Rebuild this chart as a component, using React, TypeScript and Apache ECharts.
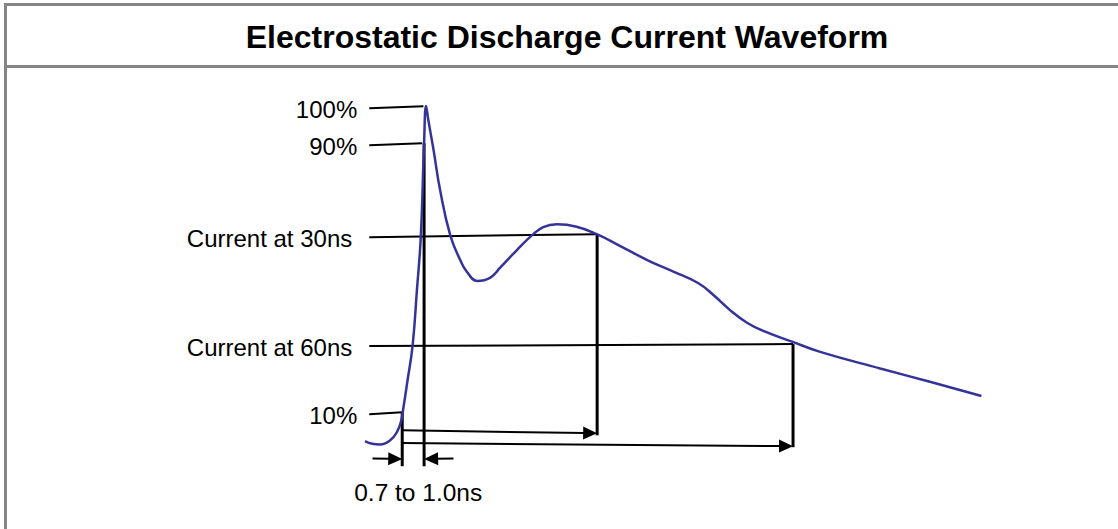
import React, { useEffect, useRef } from "react";
import * as echarts from "echarts";

// Waveform (time in ns, current in % of peak)
const timeNs = [
  -5.55, -4.45, -3.25, -1.65, -0.65, -0.05, 0.25, 0.95, 1.75, 2.4, 3.0, 3.5, 3.8,
  4.15, 4.95, 5.95, 7.5, 9.05, 10.05, 11.65, 13.65, 15.15, 17.75, 20.05, 21.75,
  23.85, 26.85, 29.95, 33.55, 37.75, 41.75, 45.45, 47.85, 50.35, 52.95, 55.45,
  59.85, 64.15, 73.35, 80.95, 88.85,
];
const currentPct = [
  1.2, 0.4, 0.2, 1.5, 3.9, 6.9, 10, 18.9, 29.5, 45.7, 61.6, 89, 100,
  95.8, 87, 75.2, 61.9, 54.5, 51.1, 48.4, 49.4, 52.3, 57.6, 61.9, 64.3,
  65.1, 64.4, 62.2, 58.7, 54.5, 51.1, 47.8, 44.2, 39.8, 36.1, 33.7,
  30.5, 27.5, 22.6, 18.7, 14.5,
];

// Level annotations
const levelLabels = ["100%", "90%", "Current at 30ns", "Current at 60ns", "10%"];
const leaderStartT = [-4.9, -4.9, -4.9, -4.9, -4.9];
const leaderStartPct = [99.35, 88.4, 61.3, 29.2, 9.1];
const leaderEndT = [3.4, 3.2, 30, 60, 0.15];
const leaderEndPct = [99.9, 89.0, 62.2, 29.8, 9.7];

// Vertical drop lines
const dropT = [0.15, 3.5, 30, 60];
const dropTopPct = [9.7, 89, 62.2, 29.8];
const dropBottomPct = [-6.2, -6.2, 2.9, -0.6];

// Arrows
const arrowFromT = [0.15, 0.15, -4.4, 8.0];
const arrowFromPct = [4.4, 0.6, -3.9, -3.9];
const arrowToT = [30, 60, 0.15, 3.5];
const arrowToPct = [3.5, -0.3, -4.1, -4.1];

const riseLabel = "0.7 to 1.0ns";
const riseLabelT = 2.6;
const riseLabelPct = -13.9;

const titleText = "Electrostatic Discharge Current Waveform";
const FONT = '"Liberation Sans", Arial, Helvetica, sans-serif';

export default function App() {
  const ref = useRef<HTMLDivElement>(null);

  useEffect(() => {
    if (!ref.current) return;
    const chart = echarts.init(ref.current, undefined, { renderer: "svg" });

    const renderItem = (params: any, api: any) => {
      if (params.dataIndex !== 0) return null;
      const children: any[] = [];
      // leaders and labels
      for (let i = 0; i < levelLabels.length; i++) {
        const a = api.coord([leaderStartT[i], leaderStartPct[i]]);
        const b = api.coord([leaderEndT[i], leaderEndPct[i]]);
        children.push({
          type: "line",
          shape: { x1: a[0], y1: a[1], x2: b[0], y2: b[1] },
          style: { stroke: "#000", lineWidth: 2 },
        });
        const gap = levelLabels[i].length > 5 ? 17 : 12;
        children.push({
          type: "text",
          x: a[0] - gap,
          y: a[1] + 1,
          style: {
            text: levelLabels[i],
            font: `24px ${FONT}`,
            fill: "#000",
            align: "right",
            verticalAlign: "middle",
            textAlign: "right",
            textVerticalAlign: "middle",
          },
        });
      }
      // drops
      for (let i = 0; i < dropT.length; i++) {
        const a = api.coord([dropT[i], dropTopPct[i]]);
        const b = api.coord([dropT[i], dropBottomPct[i]]);
        children.push({
          type: "line",
          shape: { x1: a[0], y1: a[1], x2: b[0], y2: b[1] },
          style: { stroke: "#000", lineWidth: 3 },
        });
      }
      // arrows
      for (let i = 0; i < arrowFromT.length; i++) {
        const a = api.coord([arrowFromT[i], arrowFromPct[i]]);
        const b = api.coord([arrowToT[i], arrowToPct[i]]);
        const dx = b[0] - a[0];
        const dy = b[1] - a[1];
        const len = Math.sqrt(dx * dx + dy * dy);
        const ux = dx / len;
        const uy = dy / len;
        const headL = 14;
        const headW = 6.5;
        const bx = b[0] - ux * headL;
        const by = b[1] - uy * headL;
        children.push({
          type: "line",
          shape: { x1: a[0], y1: a[1], x2: bx + ux * 2, y2: by + uy * 2 },
          style: { stroke: "#000", lineWidth: 2 },
        });
        children.push({
          type: "polygon",
          shape: {
            points: [
              [b[0], b[1]],
              [bx - uy * headW, by + ux * headW],
              [bx + uy * headW, by - ux * headW],
            ],
          },
          style: { fill: "#000" },
        });
      }
      const t = api.coord([riseLabelT, riseLabelPct]);
      children.push({
        type: "text",
        x: t[0],
        y: t[1],
        style: {
          text: riseLabel,
          font: `24.5px ${FONT}`,
          fill: "#000",
          align: "center",
          verticalAlign: "middle",
          textAlign: "center",
          textVerticalAlign: "middle",
        },
      });
      return { type: "group", children };
    };

    chart.setOption({
      animation: false,
      backgroundColor: "#fff",
      grid: { left: 349, right: 116, top: 72, bottom: 16 },
      xAxis: { type: "value", min: -8, max: 92, show: false },
      yAxis: { type: "value", min: -20, max: 110, show: false },
      graphic: [
        { type: "rect", shape: { x: 4, y: 3, width: 3, height: 526 }, style: { fill: "#858585" } },
        { type: "rect", shape: { x: 4, y: 3, width: 1114, height: 3 }, style: { fill: "#858585" } },
        { type: "rect", shape: { x: 4, y: 65, width: 1114, height: 3 }, style: { fill: "#858585" } },
        {
          type: "text",
          x: 567,
          y: 37,
          style: {
            text: titleText,
            font: `bold 32px ${FONT}`,
            fill: "#000",
            align: "center",
            verticalAlign: "middle",
            textAlign: "center",
            textVerticalAlign: "middle",
          },
        },
      ],
      series: [
        {
          type: "line",
          data: timeNs.map((t, i) => [t, currentPct[i]]),
          symbol: "none",
          smooth: 0.45,
          lineStyle: { color: "#333399", width: 2.5 },
          z: 3,
        },
        {
          type: "custom",
          data: [[0, 0]],
          renderItem,
          silent: true,
          z: 2,
        },
      ],
    });

    return () => chart.dispose();
  }, []);

  return (
    <div
      ref={ref}
      style={{ position: "fixed", left: 0, top: 0, width: 1118, height: 529, background: "#fff" }}
    />
  );
}
